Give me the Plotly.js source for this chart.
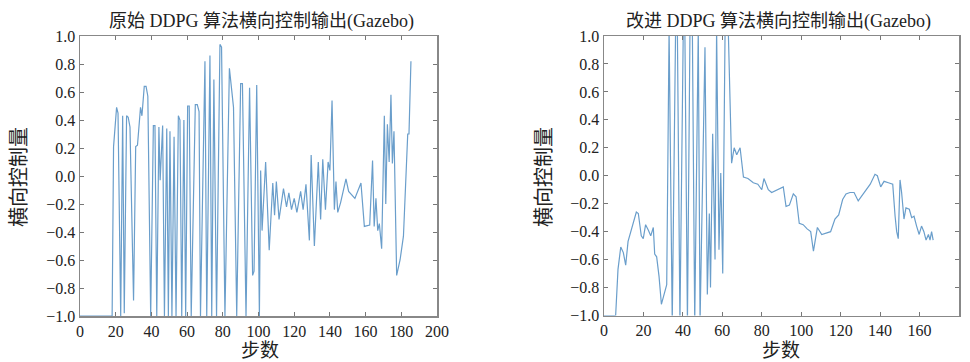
<!DOCTYPE html>
<html>
<head>
<meta charset="utf-8">
<script src="https://cdn.plot.ly/plotly-3.0.1.min.js"></script>
<style>html,body{margin:0;padding:0;background:#fff;}#chart{width:970px;height:362px;}</style>
</head>
<body>
<div id="chart"></div>
<script>
// Left chart: original DDPG
const leftSteps = [0,18,18.8,20.5,21.3,22.8,23.9,24.8,26.1,27,28,30,31.2,32.2,33.9,34.7,36,37,38,39.6,41.1,42,43,44.2,44.9,46.3,47.3,48.6,49.5,50.4,51.5,52.7,53.8,55.1,56,57,58.2,59.2,60.3,61.2,62.3,64.6,65.7,66.7,67.5,70,71,72.8,73.8,75,76.5,78.4,79.3,81.2,83.7,86,87.8,90,91,93,95,96.7,97.5,99,100.5,101.2,102,104,106,108,109,110,111.5,114,115.7,117,118.5,120,121.5,123.6,125,126.6,128.5,129.5,131.3,133.5,134.8,136,137.5,139,140,141.2,142.5,143.4,144.4,146,149,150.5,154,157.4,159.3,162.3,163.9,164.8,165.8,166.8,167.7,169,170.5,171.3,172.2,173.2,174.2,175,175.9,177.4,179.3,181.2,183.6,184.3,185.4];
const leftValues = [-1,-1,0.21,0.49,0.45,-1,0.43,-0.98,0.43,0.42,0.35,-0.89,0.21,0.22,0.49,0.43,0.64,0.64,0.57,-1,0.36,0.36,-1,0.35,-0.03,0.36,-1,0.34,-1,0.32,-1,0.28,-1,0.43,0.40,-1,0.40,-1,0.50,0.50,-1,0.51,0.51,0.46,-1,0.82,-1,0.86,-1,0.69,-1,0.94,0.92,-1,0.77,0.49,-1,0.66,0.66,-1,0.63,-0.71,-0.68,0.65,-1,0.04,-0.39,0.10,-0.53,-0.05,-0.28,-0.04,-0.31,-0.09,-0.22,-0.12,-0.24,-0.16,-0.26,-0.11,-0.24,-0.06,-0.46,0.15,-0.50,0.10,-0.31,0.12,-0.24,0.10,0.04,0.54,-0.24,-0.04,-0.26,-0.19,-0.02,-0.11,-0.16,-0.05,-0.36,-0.35,0.11,-0.36,-0.16,-0.39,-0.34,-0.52,0.43,-0.20,0.37,0.10,0.58,0.09,0.32,-0.71,-0.60,-0.43,0.30,0.30,0.82];

// Right chart: improved DDPG
const rightSteps = [0,5.9,7.1,8.5,9.8,11,12.2,13.5,14.9,16.4,17.4,18.9,19.9,21.1,22.5,23.7,25,25.7,26.7,27.9,29.1,30.4,31.8,33,34.6,36.3,37.2,38.5,40.2,41,42.3,43.6,44.8,46,47.8,48.7,51.2,52.4,53.4,54,55.1,56.3,57.1,58.3,59.2,60.2,61.4,63,64.7,66,67.3,69,70.7,73,75.7,78,80,81.1,83.3,85,88.4,90.9,92.3,94,96,97.4,99,101,103,104.8,106.2,108.2,110.4,112.6,114.9,117.1,119,121,122.7,124.7,126.8,128.9,131.5,133.2,135,137.4,138.6,140.3,142,144.2,146.4,147.6,148.4,149.2,150.1,150.9,152.1,153.1,154.8,156,157.2,158.5,159.8,161,162.2,163.3,164.5,165.3,166.1,166.9];
const rightValues = [-1,-1,-0.67,-0.51,-0.55,-0.64,-0.47,-0.41,-0.34,-0.26,-0.27,-0.43,-0.45,-0.35,-0.39,-0.43,-0.37,-0.56,-0.58,-0.72,-0.92,-0.86,-0.78,1.05,-1.05,1.05,1.05,-1.05,1.05,1.05,-1.05,1.05,1.05,-1.05,1.05,-1.05,0.92,-0.85,-0.27,-0.80,0.30,-0.60,1.05,-0.53,0.02,-0.70,1.05,1.05,0.09,0.20,0.15,0.20,-0.01,-0.02,-0.05,-0.06,-0.10,-0.02,-0.10,-0.12,-0.10,-0.08,-0.22,-0.21,-0.13,-0.15,-0.34,-0.35,-0.38,-0.40,-0.54,-0.37,-0.42,-0.41,-0.40,-0.31,-0.28,-0.17,-0.13,-0.12,-0.12,-0.18,-0.13,-0.10,-0.06,0.01,0.00,-0.08,-0.04,-0.05,-0.06,-0.29,-0.40,-0.45,-0.03,-0.12,-0.31,-0.23,-0.24,-0.30,-0.29,-0.36,-0.42,-0.36,-0.40,-0.46,-0.42,-0.46,-0.40,-0.46];

const leftTitle = '原始 DDPG 算法横向控制输出(Gazebo)';
const rightTitle = '改进 DDPG 算法横向控制输出(Gazebo)';
const yTitle = '横向控制量';
const xTitle = '步数';

const FONT = 'Liberation Serif, Times New Roman, Noto Sans CJK SC, serif';
const lineColor = '#6a9ecb';
const W = 970, H = 362;

const traces = [
  {x: leftSteps, y: leftValues, type: 'scatter', mode: 'lines', xaxis: 'x', yaxis: 'y',
   line: {color: lineColor, width: 1.2}, hoverinfo: 'skip'},
  {x: rightSteps, y: rightValues, type: 'scatter', mode: 'lines', xaxis: 'x2', yaxis: 'y2',
   line: {color: lineColor, width: 1.2}, hoverinfo: 'skip'}
];

function xax(domain, max, anchor) {
  return {domain: domain, range: [0, max], dtick: 20, tick0: 0, anchor: anchor,
    ticks: 'inside', ticklen: 4, tickcolor: '#777', mirror: 'allticks',
    showline: true, linecolor: '#888', linewidth: 1.5, showgrid: false, zeroline: false,
    tickfont: {family: FONT, size: 16, color: '#222'}};
}
function yax(domain, anchor) {
  return {domain: domain, range: [-1, 1], dtick: 0.2, tick0: -1, tickformat: '.1f', anchor: anchor,
    ticks: 'inside', ticklen: 4, tickcolor: '#777', mirror: 'allticks',
    showline: true, linecolor: '#888', linewidth: 1.5, showgrid: false, zeroline: false,
    tickfont: {family: FONT, size: 16, color: '#222'}};
}

const layout = {
  width: W, height: H,
  margin: {l: 0, r: 0, t: 0, b: 0},
  paper_bgcolor: '#fff', plot_bgcolor: '#fff',
  showlegend: false,
  xaxis: xax([80 / W, 437 / W], 200, 'y'),
  yaxis: yax([(H - 316) / H, (H - 36) / H], 'x'),
  xaxis2: xax([604 / W, 959 / W], 180, 'y2'),
  yaxis2: yax([(H - 315.5) / H, (H - 36) / H], 'x2'),
  annotations: [
    {text: leftTitle, xref: 'paper', yref: 'paper', x: 261 / W, y: (H - 21) / H, showarrow: false,
     font: {family: FONT, size: 18, color: '#222'}, xanchor: 'center', yanchor: 'middle'},
    {text: rightTitle, xref: 'paper', yref: 'paper', x: 778 / W, y: (H - 21) / H, showarrow: false,
     font: {family: FONT, size: 18, color: '#222'}, xanchor: 'center', yanchor: 'middle'},
    {text: xTitle, xref: 'paper', yref: 'paper', x: 260 / W, y: (H - 350) / H, showarrow: false,
     font: {family: FONT, size: 19, color: '#222'}, xanchor: 'center', yanchor: 'middle'},
    {text: xTitle, xref: 'paper', yref: 'paper', x: 781 / W, y: (H - 350) / H, showarrow: false,
     font: {family: FONT, size: 19, color: '#222'}, xanchor: 'center', yanchor: 'middle'},
    {text: yTitle, xref: 'paper', yref: 'paper', x: 19 / W, y: (H - 177) / H, showarrow: false, textangle: -90,
     font: {family: FONT, size: 20, color: '#222'}, xanchor: 'center', yanchor: 'middle'},
    {text: yTitle, xref: 'paper', yref: 'paper', x: 544 / W, y: (H - 177) / H, showarrow: false, textangle: -90,
     font: {family: FONT, size: 20, color: '#222'}, xanchor: 'center', yanchor: 'middle'}
  ]
};

Plotly.newPlot('chart', traces, layout, {staticPlot: true, displayModeBar: false});
</script>
</body>
</html>
